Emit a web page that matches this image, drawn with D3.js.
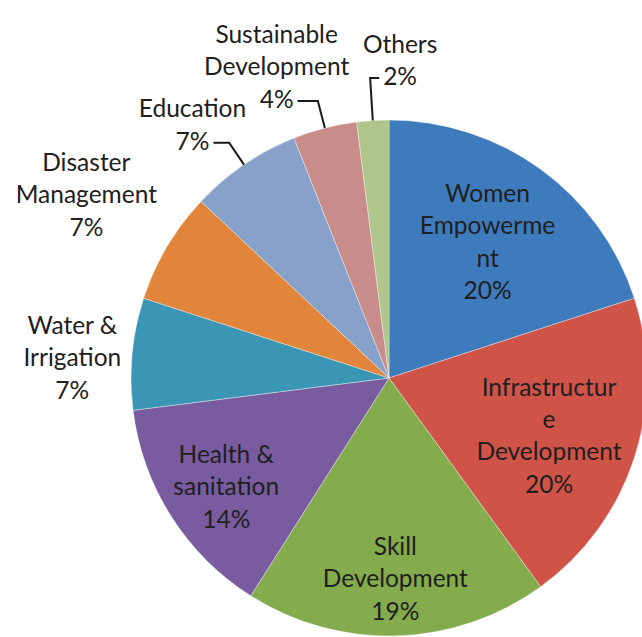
<!DOCTYPE html>
<html>
<head>
<meta charset="utf-8">
<script src="https://cdn.jsdelivr.net/npm/d3@7"></script>
<style>
  html, body { margin: 0; padding: 0; background: #fff; }
  svg { display: block; }
  .lbl { font-family: Lato, "Liberation Sans", sans-serif; font-size: 24.5px; fill: #202020; }
  .leader { fill: none; stroke: #1a1a1a; stroke-width: 2; }
</style>
</head>
<body>
<div id="chart"></div>
<script>
/* CSR spending by area: pie chart */

const categories = ['Women Empowerment', 'Infrastructure Development', 'Skill Development',
  'Health & sanitation', 'Water & Irrigation', 'Disaster Management', 'Education',
  'Sustainable Development', 'Others'];
const values = [20, 20, 19, 14, 7, 7, 7, 4, 2];
// label text as it wraps in the picture
const labelLines = [
  ['Women', 'Empowerme', 'nt'],
  ['Infrastructur', 'e', 'Development'],
  ['Skill', 'Development'],
  ['Health &', 'sanitation'],
  ['Water &', 'Irrigation'],
  ['Disaster', 'Management'],
  ['Education'],
  ['Sustainable', 'Development'],
  ['Others']
];
const colors = ['#4180c4', '#d9574b', '#8ab24f', '#7d60a6', '#3e9dbd', '#eb8b3e', '#8ea8d2', '#d19290', '#b6ce92'];

// label placement: radius as share of pie radius, angle shift in degrees
const labelPos = [
  { r: 0.65, da: 0, leader: false },
  { r: 0.66, da: 2, leader: false },
  { r: 0.78, da: 0, leader: false },
  { r: 0.76, da: -1.5, leader: false },
  { r: 1.23, da: -1.8, leader: false },
  { r: 1.37, da: 0.5, leader: false },
  { r: 1.24, da: -3.7, leader: true },
  { r: 1.28, da: -5.5, leader: true },
  { r: 1.23, da: 5.6, leader: true }
];

function initChart() {
  const width = 642, height = 637;
  const cx = 389, cy = 378, radius = 258;
  const lineH = 32.5;

  const svg = d3.select('#chart').append('svg')
    .attr('width', width).attr('height', height);

  const defs = svg.append('defs');
  colors.forEach((c, i) => {
    const grad = defs.append('radialGradient')
      .attr('id', 'g' + i)
      .attr('gradientUnits', 'userSpaceOnUse')
      .attr('cx', cx).attr('cy', cy).attr('r', radius);
    grad.append('stop').attr('offset', '0%').attr('stop-color', d3.color(c).brighter(0.12));
    grad.append('stop').attr('offset', '100%').attr('stop-color', d3.color(c).darker(0.12));
  });

  const g = svg.append('g').attr('transform', `translate(${cx},${cy})`);

  const pie = d3.pie().sort(null).value(d => d);
  const arcs = pie(values);
  const arc = d3.arc().innerRadius(0).outerRadius(radius);

  g.selectAll('.slice').data(arcs).enter().append('path')
    .attr('class', 'slice')
    .attr('d', arc)
    .attr('fill', (d, i) => `url(#g${i})`)
    .attr('stroke', 'rgba(255,255,255,0.45)')
    .attr('stroke-width', 0.8);

  const rad = a => a * Math.PI / 180;
  const polar = (angle, r) => [r * Math.sin(angle), -r * Math.cos(angle)];

  arcs.forEach((d, i) => {
    const p = labelPos[i];
    const mid = (d.startAngle + d.endAngle) / 2;
    const lines = labelLines[i].concat([values[i] + '%']);
    const [lx, ly] = polar(mid + rad(p.da), radius * p.r);
    const top = ly - (lines.length - 1) * lineH / 2 + 8;

    const text = g.append('text').attr('class', 'lbl').attr('text-anchor', 'middle');
    lines.forEach((t, k) => {
      text.append('tspan').attr('x', lx).attr('y', top + k * lineH).text(t);
    });

    if (p.leader) {
      const last = text.selectAll('tspan').nodes().pop();
      const w = last.getComputedTextLength();
      const yLine = top + (lines.length - 1) * lineH - 7;
      const [ex, ey] = polar(mid, radius);
      const dir = polar(mid, 1);
      const t = (yLine - ey) / dir[1];
      const bx = ex + dir[0] * t;
      const endX = bx < lx ? lx - w / 2 - 4 : lx + w / 2 + 4;
      g.append('path').attr('class', 'leader')
        .attr('d', d3.line()([[ex, ey], [bx, yLine], [endX, yLine]]));
    }
  });
}

document.addEventListener('DOMContentLoaded', initChart);
</script>
</body>
</html>
